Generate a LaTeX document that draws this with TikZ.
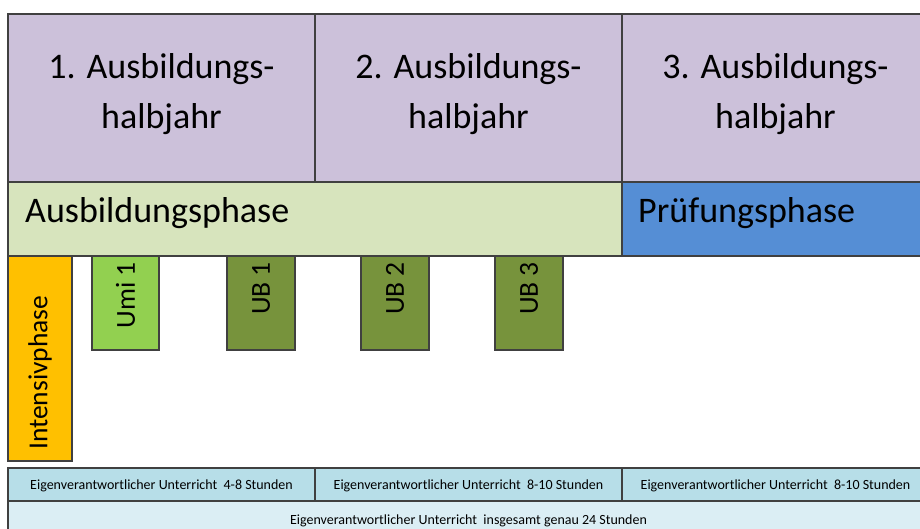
\documentclass[tikz,border=0pt]{standalone}
\usepackage{fontspec}
\setmainfont{Carlito}
\definecolor{bordergray}{HTML}{404040}
\definecolor{hdr}{HTML}{CCC1DA}
\definecolor{ausb}{HTML}{D7E4BD}
\definecolor{pruef}{HTML}{558ED5}
\definecolor{intens}{HTML}{FFC000}
\definecolor{umi}{HTML}{92D050}
\definecolor{ub}{HTML}{77933C}
\definecolor{eig}{HTML}{B7DEE8}
\definecolor{eigall}{HTML}{DBEEF4}
\begin{document}
\begin{tikzpicture}[x=1pt,y=-1pt,
  box/.style={draw=bordergray, line width=1.2pt, inner sep=0pt, outer sep=0pt, anchor=north west},
  hdrtext/.style={font=\fontsize{36}{50}\selectfont, align=center, inner sep=0pt},
  phasetext/.style={font=\fontsize{36}{43}\selectfont, inner sep=0pt, anchor=base west},
  rottext/.style={font=\fontsize{27.5}{33}\selectfont, inner sep=0pt, rotate=90},
  smalltext/.style={font=\fontsize{14}{17}\selectfont, inner sep=0pt, anchor=base}]
\clip (0,0) rectangle (920,529);
\fill[white] (0,0) rectangle (920,529);
% header
\node[box, fill=hdr, minimum width=307pt, minimum height=168pt] (h1) at (8,14) {};
\node[box, fill=hdr, minimum width=307pt, minimum height=168pt] (h2) at (315,14) {};
\node[box, fill=hdr, minimum width=307pt, minimum height=168pt] (h3) at (622,14) {};
\node[hdrtext] (t1) at (161.5,94) {1. Ausbildungs-\\halbjahr};
\node[hdrtext] (t2) at (468.5,94) {2. Ausbildungs-\\halbjahr};
\node[hdrtext] (t3) at (775.5,94) {3. Ausbildungs-\\halbjahr};
% small boxes
\node[box, fill=intens, minimum width=64pt, minimum height=205pt] (ip) at (8,256) {};
\node[box, fill=umi, minimum width=67pt, minimum height=94pt] (u1) at (92,256) {};
\node[box, fill=ub, minimum width=68pt, minimum height=94pt] (b1) at (227,256) {};
\node[box, fill=ub, minimum width=68pt, minimum height=94pt] (b2) at (361,256) {};
\node[box, fill=ub, minimum width=68pt, minimum height=94pt] (b3) at (495,256) {};
\node[rottext, anchor=west] (tip) at (40,450) {Intensivphase};
\node[rottext, anchor=east] (tu1) at (125.5,262) {Umi 1};
\node[rottext, anchor=east] (tb1) at (261,262) {UB 1};
\node[rottext, anchor=east] (tb2) at (395,262) {UB 2};
\node[rottext, anchor=east] (tb3) at (529,262) {UB 3};
% phases
\node[box, fill=ausb, minimum width=614pt, minimum height=74pt] (ap) at (8,182) {};
\node[box, fill=pruef, minimum width=307pt, minimum height=74pt] (pp) at (622,182) {};
\node[phasetext] (tap) at (25,223) {Ausbildungsphase};
\node[phasetext] (tpp) at (638,223) {Prüfungsphase};
% bottom rows
\node[box, fill=eig, minimum width=307pt, minimum height=33pt] (e1) at (8,468) {};
\node[box, fill=eig, minimum width=307pt, minimum height=33pt] (e2) at (315,468) {};
\node[box, fill=eig, minimum width=307pt, minimum height=33pt] (e3) at (622,468) {};
\node[box, fill=eigall, minimum width=921pt, minimum height=40pt] (ea) at (8,501) {};
\node[smalltext] (te1) at (161.5,489) {Eigenverantwortlicher Unterricht\ \ 4-8 Stunden};
\node[smalltext] (te2) at (468.5,489) {Eigenverantwortlicher Unterricht\ \ 8-10 Stunden};
\node[smalltext] (te3) at (775.5,489) {Eigenverantwortlicher Unterricht\ \ 8-10 Stunden};
\node[smalltext] (tea) at (468.5,524) {Eigenverantwortlicher Unterricht\ \ insgesamt genau 24 Stunden};
\end{tikzpicture}
\end{document}
